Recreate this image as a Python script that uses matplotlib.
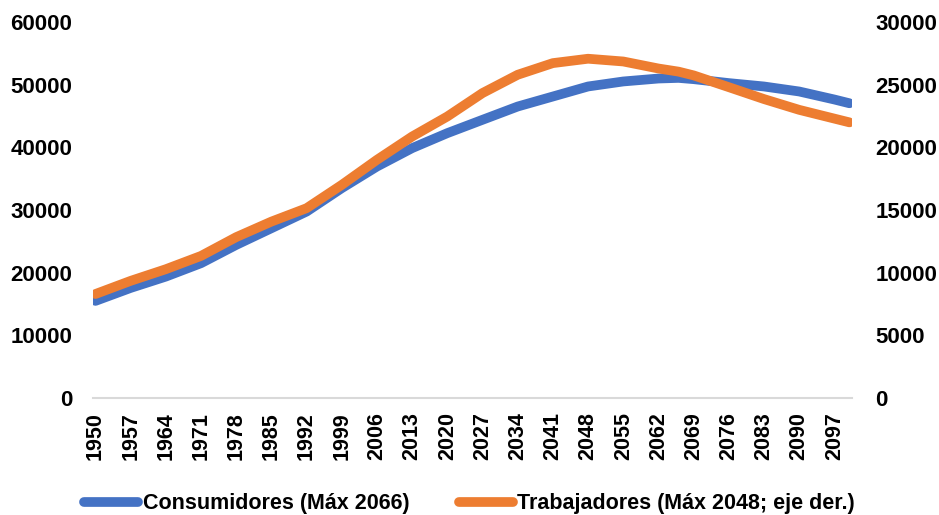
import matplotlib
matplotlib.use("Agg")
import matplotlib.pyplot as plt
from matplotlib.lines import Line2D

years = [1950, 1957, 1964, 1971, 1978, 1985, 1992, 1999, 2006, 2013, 2020,
         2027, 2034, 2041, 2048, 2055, 2062, 2066, 2069, 2076, 2083, 2090,
         2097, 2100]
consumidores = [15500, 17570, 19380, 21520, 24440, 27100, 29760, 33500,
                36950, 39890, 42280, 44410, 46530, 48130, 49730, 50530,
                51000, 51100, 50900, 50270, 49730, 48930, 47650, 47050]
trabajadores = [8300, 9350, 10280, 11340, 12840, 14080, 15150, 17010,
                19010, 20870, 22470, 24340, 25800, 26730, 27080, 26860,
                26300, 26050, 25750, 24810, 23860, 23000, 22300, 22000]

tick_years = list(range(1950, 2100, 7))
left_ticks = [0, 10000, 20000, 30000, 40000, 50000, 60000]
right_ticks = [0, 5000, 10000, 15000, 20000, 25000, 30000]
label_c = "Consumidores (Máx 2066)"
label_t = "Trabajadores (Máx 2048; eje der.)"

blue = "#4472C4"
orange = "#ED7D31"

plt.rcParams['font.family'] = ['Liberation Sans', 'DejaVu Sans']
plt.rcParams['font.weight'] = 'bold'

fig = plt.figure(figsize=(9.39, 5.15), dpi=100)
ax = fig.add_axes([0.099, 0.2272, 0.8083, 0.7298])
ax2 = ax.twinx()

lw = 7
ax.plot(years, consumidores, color=blue, lw=lw, solid_capstyle='round',
        solid_joinstyle='round')
ax2.plot(years, trabajadores, color=orange, lw=lw, solid_capstyle='round',
         solid_joinstyle='round')

ax.set_xlim(1949.5, 2100.5)
ax.set_ylim(0, 60000)
ax2.set_ylim(0, 30000)

ax.set_xticks(tick_years)
ax.set_xticklabels([str(y) for y in tick_years], rotation=90,
                   fontsize=15.5, fontweight='bold')
ax.set_yticks(left_ticks)
ax.set_yticklabels([str(v) for v in left_ticks], fontsize=16,
                   fontweight='bold')
ax2.set_yticks(right_ticks)
ax2.set_yticklabels([str(v) for v in right_ticks], fontsize=16,
                    fontweight='bold')

for a in (ax, ax2):
    for s in ('top', 'left', 'right', 'bottom'):
        a.spines[s].set_visible(False)
ax.spines['bottom'].set_visible(True)
ax.spines['bottom'].set_color('#D9D9D9')
ax.spines['bottom'].set_linewidth(1.5)

ax.tick_params(axis='x', length=0, pad=10)
ax.tick_params(axis='y', length=0, pad=15)
ax2.tick_params(axis='y', length=0, pad=17)

handles = [Line2D([0], [0], color=blue, lw=lw, solid_capstyle='round'),
           Line2D([0], [0], color=orange, lw=lw, solid_capstyle='round')]
fig.legend(handles, [label_c, label_t], loc='center',
           bbox_to_anchor=(0.5, 0.022), ncol=2, frameon=False,
           prop={'size': 15.5, 'weight': 'bold'}, handlelength=2.5,
           handletextpad=0.2, columnspacing=2.3)

fig.savefig("out.png", dpi=100)
